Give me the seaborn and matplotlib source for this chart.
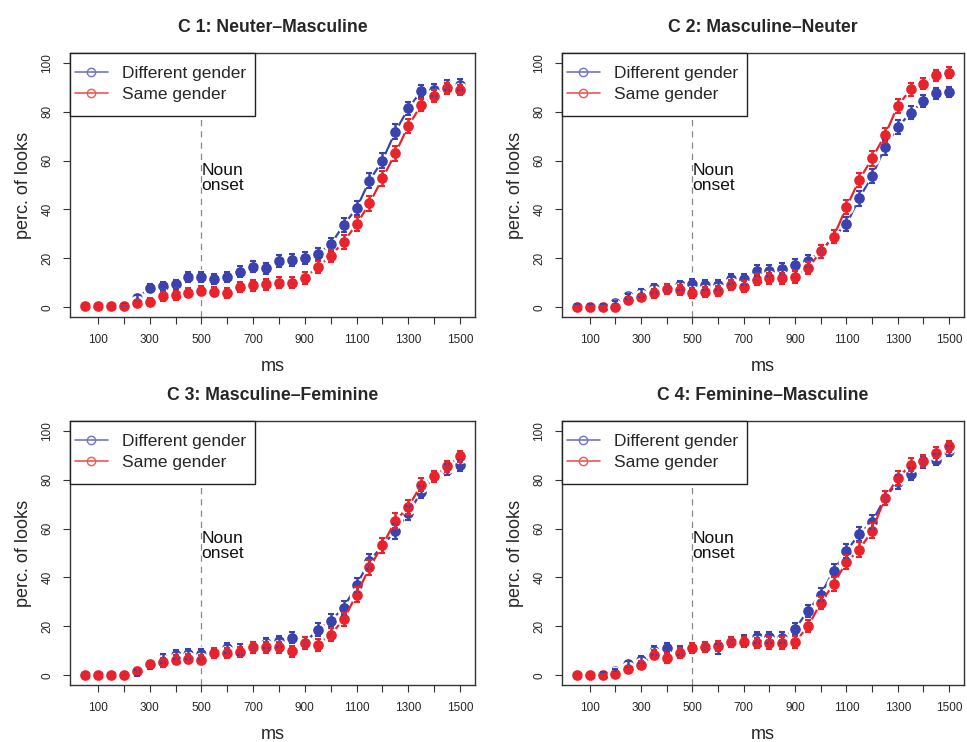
import numpy as np
import pandas as pd
import matplotlib
matplotlib.use("Agg")
import matplotlib.pyplot as plt
from matplotlib.lines import Line2D
from matplotlib.patches import Rectangle
import seaborn as sns

# ---------------- data ----------------
ms = [50, 100, 150, 200, 250, 300, 350, 400, 450, 500, 550, 600, 650, 700, 750,
      800, 850, 900, 950, 1000, 1050, 1100, 1150, 1200, 1250, 1300, 1350, 1400, 1450, 1500]

titles = ["C 1: Neuter\u2013Masculine", "C 2: Masculine\u2013Neuter",
          "C 3: Masculine\u2013Feminine", "C 4: Feminine\u2013Masculine"]

c1_diff = [0.3, 0.3, 0.3, 0.7, 3.7, 7.8, 8.7, 9.4, 12.3, 12.5, 11.6, 12.5, 14.6, 16.6, 15.9,
           18.9, 19.3, 20.0, 21.7, 25.7, 33.6, 40.5, 51.8, 60.0, 71.8, 81.3, 88.4, 88.8, 90.9, 91.1]
c1_same = [0.3, 0.3, 0.3, 0.3, 1.9, 2.3, 4.4, 4.8, 6.0, 6.8, 6.4, 5.7, 8.4, 8.9, 9.4,
           10.1, 10.1, 12.1, 16.3, 21.0, 26.8, 33.9, 42.5, 52.7, 62.9, 74.2, 82.7, 86.4, 89.5, 88.8]

c2_diff = [1.0, 1.0, 1.0, 1.6, 4.4, 5.7, 7.8, 7.4, 8.9, 9.4, 9.1, 9.1, 11.4, 11.4, 14.9,
           14.9, 15.7, 17.3, 18.9, 22.8, 28.9, 33.9, 44.6, 53.7, 65.4, 73.6, 79.6, 84.3, 87.5, 88.1]
c2_same = [0.0, 0.0, 0.0, 0.0, 3.0, 4.0, 5.7, 7.4, 7.1, 5.7, 6.1, 6.7, 9.1, 8.4, 11.2,
           11.9, 11.9, 12.5, 15.9, 22.8, 28.9, 40.9, 52.1, 60.9, 70.4, 82.4, 89.1, 91.5, 94.9, 96.0]

c3_diff = [0.0, 0.0, 0.0, 0.0, 1.0, 4.1, 6.8, 8.4, 8.7, 8.7, 8.9, 11.2, 10.5, 11.2, 13.2,
           13.9, 15.3, 13.2, 18.7, 22.3, 27.5, 37.0, 46.6, 53.1, 58.9, 66.3, 74.9, 81.3, 84.1, 85.8]
c3_same = [0.0, 0.0, 0.0, 0.0, 1.9, 4.4, 5.3, 6.4, 6.8, 6.4, 9.1, 9.1, 9.4, 11.4, 11.4,
           11.4, 9.8, 13.2, 12.5, 16.6, 22.8, 33.0, 44.1, 53.1, 63.2, 68.8, 77.9, 81.3, 85.4, 89.5]

c4_diff = [0.3, 0.3, 0.7, 1.6, 4.6, 6.4, 10.1, 11.2, 10.1, 11.2, 11.4, 10.8, 13.5, 14.2, 15.5,
           15.5, 15.3, 18.9, 26.4, 33.0, 42.8, 50.7, 57.8, 62.7, 72.5, 79.0, 82.3, 87.2, 88.1, 91.6]
c4_same = [0.0, 0.0, 0.0, 0.3, 2.7, 4.1, 8.4, 7.1, 9.1, 11.2, 11.4, 11.9, 13.5, 13.6, 13.2,
           13.2, 13.2, 13.5, 20.0, 29.6, 37.3, 46.3, 51.4, 59.1, 72.5, 80.7, 86.1, 87.5, 91.1, 93.6]

# standard error (percentage points)
err = [0.4, 0.4, 0.5, 0.8, 1.2, 1.6, 1.8, 1.9, 2.0, 2.0, 2.0, 2.0, 2.1, 2.2, 2.2,
       2.3, 2.3, 2.4, 2.5, 2.6, 2.8, 2.9, 3.0, 3.0, 3.0, 2.8, 2.6, 2.4, 2.2, 2.1]

diff_series = [c1_diff, c2_diff, c3_diff, c4_diff]
same_series = [c1_same, c2_same, c3_same, c4_same]

xticks = list(range(100, 1501, 100))
xticklabels = [str(t) if (t // 100) % 2 == 1 else "" for t in xticks]
yticks = [0, 20, 40, 60, 80, 100]

labels = ["Different gender", "Same gender"]
BLUE = "#3a43ad"
RED = "#e8232b"
BLUE_L = "#7474c6"
RED_L = "#ea5858"

# ---------------- plotting ----------------
sns.set_theme(style="ticks")
plt.rcParams["font.family"] = ["Liberation Sans", "DejaVu Sans"]

fig = plt.figure(figsize=(9.67, 7.42), dpi=100)
W, H = 967, 742
boxes = [(70, 53, 475, 317), (562, 53, 964, 317), (70, 421, 475, 685), (562, 421, 964, 685)]

for i, (l, t, r, b) in enumerate(boxes):
    aw, ah = r - l, b - t
    ax = fig.add_axes([l / W, 1 - b / H, aw / W, ah / H])
    df = pd.DataFrame({
        "ms": ms * 2,
        "pct": diff_series[i] + same_series[i],
        "cond": [labels[0]] * len(ms) + [labels[1]] * len(ms),
    })
    ax.axvline(500, color="#888888", lw=0.9, ls=(0, (5, 4)), zorder=1)
    sns.lineplot(data=df, x="ms", y="pct", hue="cond", palette=[BLUE, RED],
                 marker="o", markersize=9.5, markeredgewidth=1.8, markeredgecolor="white",
                 lw=1.6, legend=False, ax=ax, zorder=3)
    ax.errorbar(ms, diff_series[i], yerr=err, fmt="none", ecolor=BLUE, elinewidth=1.8,
                capsize=2.5, capthick=1.5, zorder=4)
    ax.errorbar(ms, same_series[i], yerr=err, fmt="none", ecolor=RED, elinewidth=1.8,
                capsize=2.5, capthick=1.5, zorder=4)

    ax.set_xlim(-8, 1558)
    ax.set_ylim(-4, 104)
    ax.set_xticks(xticks)
    ax.set_xticklabels(xticklabels, fontsize=8.5)
    ax.set_yticks(yticks)
    ax.set_yticklabels([str(v) for v in yticks], fontsize=8.5, rotation=90, va="center")
    ax.tick_params(axis="both", direction="out", length=5, width=0.8, color="#333333", pad=7)
    for s in ax.spines.values():
        s.set_visible(True)
        s.set_color("#333333")
        s.set_linewidth(1.0)
    ax.set_xlabel("ms", fontsize=13, labelpad=9)
    ax.set_ylabel("perc. of looks", fontsize=13, labelpad=7)
    ax.set_title(titles[i], fontsize=12.7, fontweight="bold", pad=15)
    ax.text(500, 53, "Noun\nonset", fontsize=12.5, ha="left", va="center",
            linespacing=1.0, color="#111111")

    # legend frame (drawn separately to match the original's padding)
    ax.add_patch(Rectangle((0, 1 - 63 / ah), 185 / aw, 63 / ah, transform=ax.transAxes,
                           facecolor="white", edgecolor="#222222", lw=1.0, zorder=5,
                           clip_on=False))
    handles = [Line2D([0], [0], color=BLUE_L, lw=1.2, marker="o", markersize=6,
                      markerfacecolor="none", markeredgecolor=BLUE_L),
               Line2D([0], [0], color=RED_L, lw=1.2, marker="o", markersize=6,
                      markerfacecolor="none", markeredgecolor=RED_L)]
    leg = ax.legend(handles, labels, loc="upper left",
                    bbox_to_anchor=(5 / aw, 1 - 13 / ah), borderaxespad=0, borderpad=0,
                    fontsize=12.5, frameon=False, handlelength=1.9, handletextpad=0.8,
                    labelspacing=0.32)
    leg.set_zorder(6)

fig.savefig("out.png", dpi=100, facecolor="white")
